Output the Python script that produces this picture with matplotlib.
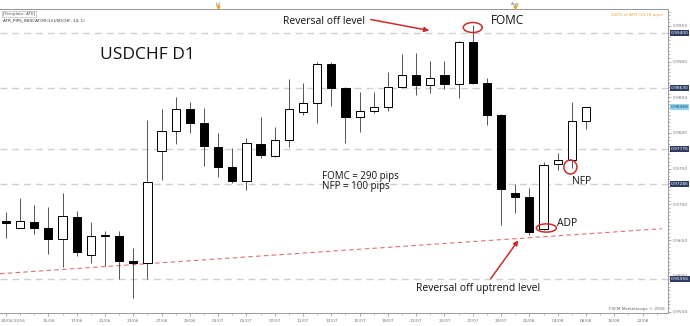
import matplotlib
matplotlib.use('Agg')
import matplotlib.pyplot as plt
import matplotlib.transforms as mtransforms
from matplotlib.patches import Rectangle, Ellipse
from matplotlib.ticker import MultipleLocator, FixedLocator

W, H = 690, 326

# daily USDCHF candles, 10/06/2016 .. 08/08/2016
opens = [0.9677, 0.9667, 0.9676, 0.9667, 0.9651, 0.9683, 0.9629, 0.9656, 0.9656, 0.9621,
         0.9618, 0.9775, 0.9803, 0.9833, 0.9814, 0.9781, 0.9752, 0.9733, 0.9785, 0.9768,
         0.9790, 0.9830, 0.9842, 0.9897, 0.9863, 0.9823, 0.9831, 0.9837, 0.9865, 0.9881,
         0.9867, 0.9881, 0.9868, 0.9927, 0.9870, 0.9825, 0.9716, 0.9711, 0.9666, 0.9756,
         0.9762, 0.9817]
highs = [0.9690, 0.9709, 0.9699, 0.9696, 0.9716, 0.9691, 0.9675, 0.9663, 0.9663, 0.9639,
         0.9818, 0.9833, 0.9850, 0.9844, 0.9835, 0.9800, 0.9779, 0.9793, 0.9822, 0.9809,
         0.9875, 0.9870, 0.9900, 0.9899, 0.9864, 0.9858, 0.9858, 0.9886, 0.9911, 0.9912,
         0.9901, 0.9901, 0.9929, 0.9951, 0.9877, 0.9826, 0.9729, 0.9723, 0.9760, 0.9772,
         0.9844, 0.9837]
lows = [0.9653, 0.9667, 0.9658, 0.9631, 0.9613, 0.9628, 0.9618, 0.9614, 0.9595, 0.9569,
        0.9596, 0.9734, 0.9785, 0.9800, 0.9754, 0.9738, 0.9730, 0.9720, 0.9765, 0.9766,
        0.9781, 0.9825, 0.9814, 0.9838, 0.9786, 0.9802, 0.9828, 0.9831, 0.9863, 0.9853,
        0.9856, 0.9861, 0.9849, 0.9869, 0.9811, 0.9671, 0.9688, 0.9657, 0.9664, 0.9748,
        0.9751, 0.9806]
closes = [0.9674, 0.9677, 0.9667, 0.9651, 0.9684, 0.9634, 0.9656, 0.9657, 0.9621, 0.9618,
          0.9732, 0.9803, 0.9833, 0.9814, 0.9782, 0.9752, 0.9733, 0.9786, 0.9769, 0.9790,
          0.9833, 0.9842, 0.9897, 0.9863, 0.9823, 0.9831, 0.9837, 0.9865, 0.9881, 0.9867,
          0.9877, 0.9868, 0.9927, 0.9870, 0.9825, 0.9721, 0.9711, 0.9662, 0.9755, 0.9762,
          0.9817, 0.9837]

date_idx = [0, 3, 5, 7, 9, 11, 13, 15, 17, 19, 21, 23, 25, 27, 29, 31, 33, 35, 37, 39, 41, 43, 45]
date_labels = ['10/06/2016', '15/06', '17/06', '21/06', '23/06', '27/06', '29/06', '01/07',
               '05/07', '07/07', '11/07', '13/07', '15/07', '19/07', '21/07', '25/07', '27/07',
               '29/07', '02/08', '04/08', '08/08', '10/08', '12/08']
month_idx = [15, 36]
month_labels = ['Jul', 'Aug']

levels = [0.99400, 0.98630, 0.97776, 0.97286, 0.95956]
last_price = 0.98368
trend_x = [-0.42, 46.36]
trend_y = [0.9603, 0.9666]

fig = plt.figure(figsize=(W / 100, H / 100), dpi=100)
ax = fig.add_axes([0, 13 / H, 668 / W, (313 - 9) / H])
ax.set_xlim(-0.42, 46.8)
ax.set_ylim(0.9548, 0.99736)

for lv in levels:
    ax.axhline(lv, color='#d0d0d0', lw=1.0, ls=(0, (5, 3.5)), zorder=1)

ax.plot(trend_x, trend_y, color='#e07070', lw=0.8, ls=(0, (4, 3)), zorder=2)

bw = 0.58
for i, (o, h, l, c) in enumerate(zip(opens, highs, lows, closes)):
    ax.vlines(i, l, h, color='#555555', lw=0.7, zorder=3)
    fc = 'white' if c >= o else 'black'
    ax.add_patch(Rectangle((i - bw / 2, min(o, c)), bw, max(abs(c - o), 0.00006),
                           facecolor=fc, edgecolor='black', lw=0.7, zorder=4))

# red circles
red = '#cc2b2b'
ax.add_patch(Ellipse((33, 0.99477), 1.34, 0.0014, fill=False, ec=red, lw=1.1, zorder=5))
ax.add_patch(Ellipse((38.2, 0.96670), 1.41, 0.00115, fill=False, ec=red, lw=1.1, zorder=5))
ax.add_patch(Ellipse((39.9, 0.97524), 0.92, 0.00196, fill=False, ec=red, lw=1.1, zorder=5))

# axes styling
ax.spines['left'].set_visible(False)
for s in ['top', 'right', 'bottom']:
    ax.spines[s].set_color('#9a9a9a')
    ax.spines[s].set_linewidth(0.7)

ax.yaxis.tick_right()
ax.yaxis.set_major_locator(MultipleLocator(0.005))
ax.yaxis.set_minor_locator(MultipleLocator(0.0005))
ax.yaxis.set_major_formatter(plt.FormatStrFormatter('%.4f'))
ax.tick_params(axis='y', which='major', labelsize=3.2, labelcolor='#777777', length=2.5,
               width=0.5, color='#888888', pad=1)
ax.tick_params(axis='y', which='minor', length=1.2, width=0.4, color='#888888')

ax.xaxis.set_major_locator(FixedLocator(date_idx))
ax.xaxis.set_minor_locator(MultipleLocator(1))
ax.set_xticklabels(date_labels)
ax.tick_params(axis='x', which='major', labelsize=3.2, labelcolor='#777777', length=2.5,
               width=0.5, color='#888888', pad=2)
ax.tick_params(axis='x', which='minor', length=1.2, width=0.4, color='#888888')
first = ax.get_xticklabels()[0]
first.set_ha('left')
first.set_transform(first.get_transform() + mtransforms.ScaledTranslation(-5 / 100, 0, fig.dpi_scale_trans))

top = ax.secondary_xaxis('top')
top.set_xticks(month_idx)
top.set_xticklabels(month_labels)
top.tick_params(labelsize=3.2, labelcolor='#777777', length=1.5, width=0.5, color='#888888', pad=0.5)
top.spines['top'].set_color('#9a9a9a')
top.spines['top'].set_linewidth(0.7)
trans_top = mtransforms.blended_transform_factory(ax.transData, ax.transAxes)
ax.plot(month_idx, [1.006, 1.006], ls='none', marker='v', ms=2.2, color='#f0a030',
        transform=trans_top, clip_on=False, zorder=6)

# price boxes on the right axis
trans_r = mtransforms.blended_transform_factory(ax.transAxes, ax.transData)
for lv in levels:
    ax.text(1.004, lv, '%.5f' % lv, transform=trans_r, fontsize=3.2, color='white',
            va='center', ha='left', clip_on=False, zorder=7,
            bbox=dict(boxstyle='square,pad=0.2', fc='#2f3b63', ec='none'))
ax.text(1.004, last_price, '%.5f' % last_price, transform=trans_r, fontsize=3.2,
        color='#1d3b5a', va='center', ha='left', clip_on=False, zorder=7,
        bbox=dict(boxstyle='square,pad=0.2', fc='#8fd6f2', ec='none'))


def fx(x):
    return x / W


def fy(y):
    return 1 - y / H


font = 'Open Sans'
fig.text(fx(3), fy(14), '[Template: ATK]', fontsize=3, color='#555555', va='center',
         bbox=dict(boxstyle='square,pad=0.2', fc='white', ec='#aaaaaa', lw=0.4))
fig.text(fx(3), fy(20), 'ATR_PIPS_INDICATOR(1)(USDCHF, 14, 1)', fontsize=3, color='#333333', va='center')
fig.text(fx(663), fy(15), '100% of ATR (10.73 pips)', fontsize=3, color='#f0a030', va='center', ha='right')
fig.text(fx(665), fy(309), 'FXCM Marketscope \u00a9 2016', fontsize=3, color='#666666', va='center', ha='right')

fig.text(fx(100), fy(55), 'USDCHF D1', fontsize=12.5, family=font, color='#111111', va='center')
fig.text(fx(283), fy(21), 'Reversal off level', fontsize=7.5, family=font, color='#111111', va='center')
fig.text(fx(491), fy(20), 'FOMC', fontsize=8.5, family=font, color='#111111', va='center')
fig.text(fx(322), fy(176), 'FOMC = 290 pips', fontsize=7, family=font, color='#111111', va='center')
fig.text(fx(322), fy(186), 'NFP = 100 pips', fontsize=7, family=font, color='#111111', va='center')
fig.text(fx(572), fy(182), 'NFP', fontsize=7.5, family=font, color='#111111', va='center')
fig.text(fx(557), fy(224), 'ADP', fontsize=7.5, family=font, color='#111111', va='center')
fig.text(fx(478), fy(288), 'Reversal off uptrend level', fontsize=7.5, family=font, color='#111111',
         va='center', ha='center')

arrow = dict(arrowstyle='-|>', color=red, lw=1.1, mutation_scale=7)
ax.annotate('', xy=(432, H - 31), xytext=(368, H - 19), xycoords='figure pixels',
            textcoords='figure pixels', arrowprops=arrow)
ax.annotate('', xy=(520, H - 238), xytext=(489, H - 281), xycoords='figure pixels',
            textcoords='figure pixels', arrowprops=arrow)

fig.savefig('out.png', dpi=100, facecolor='white')
